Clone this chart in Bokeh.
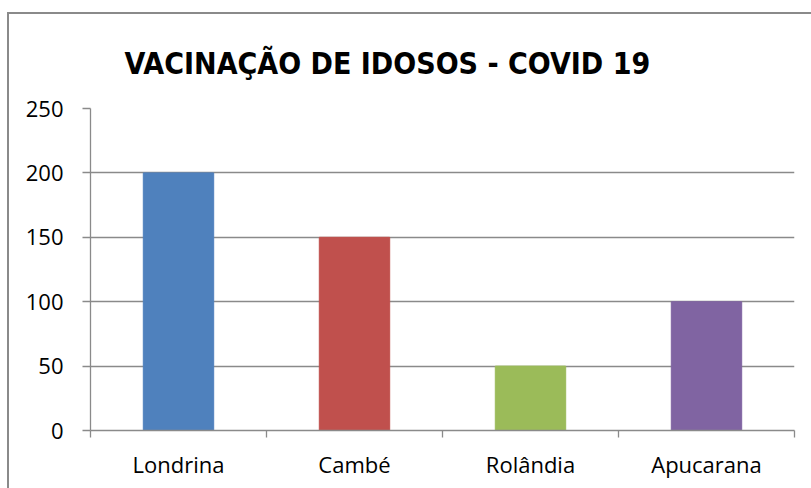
from bokeh.plotting import figure
from bokeh.models import FixedTicker, Range1d, ColumnDataSource
from bokeh.embed import file_html
from bokeh.resources import INLINE

categories = ["Londrina", "Cambé", "Rolândia", "Apucarana"]
values = [200, 150, 50, 100]
colors = ["#4F81BD", "#C0504D", "#9BBB59", "#8064A2"]
y_ticks = [0, 50, 100, 150, 200, 250]
title_text = "VACINAÇÃO DE IDOSOS - COVID 19"

xs = [i + 0.5 for i in range(len(categories))]
src = ColumnDataSource(dict(x=xs, top=values, color=colors, cat=categories))

gray = "#8a8a8a"
p = figure(width=811, height=488, output_backend="svg", toolbar_location=None,
           x_range=Range1d(0, len(categories)), y_range=Range1d(0, 250),
           min_border_left=90, min_border_right=17, min_border_top=108, min_border_bottom=58,
           title=title_text)

p.border_fill_color = None
p.background_fill_color = "#ffffff"
p.styles = {
    "background": (f"linear-gradient({gray},{gray}) 7px 12px / 2px 100% no-repeat, "
                   f"linear-gradient({gray},{gray}) 7px 12px / 100% 2px no-repeat, #ffffff"),
}

p.title.text_font = "'DejaVu Sans Condensed', 'Liberation Sans', sans-serif"
p.title.text_font_style = "bold"
p.title.text_font_size = "30px"
p.title.text_color = "#000000"
p.title.align = "left"
p.title.offset = 34
p.title.standoff = 55

p.vbar(x="x", top="top", width=0.4, color="color", source=src)

p.outline_line_color = None
p.xgrid.visible = False
p.ygrid.grid_line_color = gray
p.ygrid.grid_line_width = 1.3
p.ygrid.ticker = FixedTicker(ticks=y_ticks)

ya = p.yaxis[0]
ya.ticker = FixedTicker(ticks=y_ticks)
ya.axis_line_color = gray
ya.axis_line_width = 1.3
ya.major_tick_line_color = gray
ya.major_tick_line_width = 1.3
ya.major_tick_out = 8
ya.major_tick_in = 0
ya.minor_tick_line_color = None
ya.major_label_standoff = 19
ya.major_label_text_font = "Open Sans"
ya.major_label_text_font_size = "22px"
ya.major_label_text_color = "#000000"

xa = p.xaxis[0]
xa.ticker = FixedTicker(ticks=xs, minor_ticks=list(range(len(categories) + 1)))
xa.major_label_overrides = {x: c for x, c in zip(xs, categories)}
xa.axis_line_color = gray
xa.axis_line_width = 1.3
xa.major_tick_line_color = None
xa.major_tick_out = 0
xa.major_tick_in = 0
xa.minor_tick_line_color = gray
xa.minor_tick_line_width = 1.3
xa.minor_tick_out = 7
xa.minor_tick_in = 0
xa.major_label_standoff = 11
xa.major_label_text_font = "Open Sans"
xa.major_label_text_font_size = "22px"
xa.major_label_text_color = "#000000"

open("out.html", "w").write(file_html(p, INLINE))
